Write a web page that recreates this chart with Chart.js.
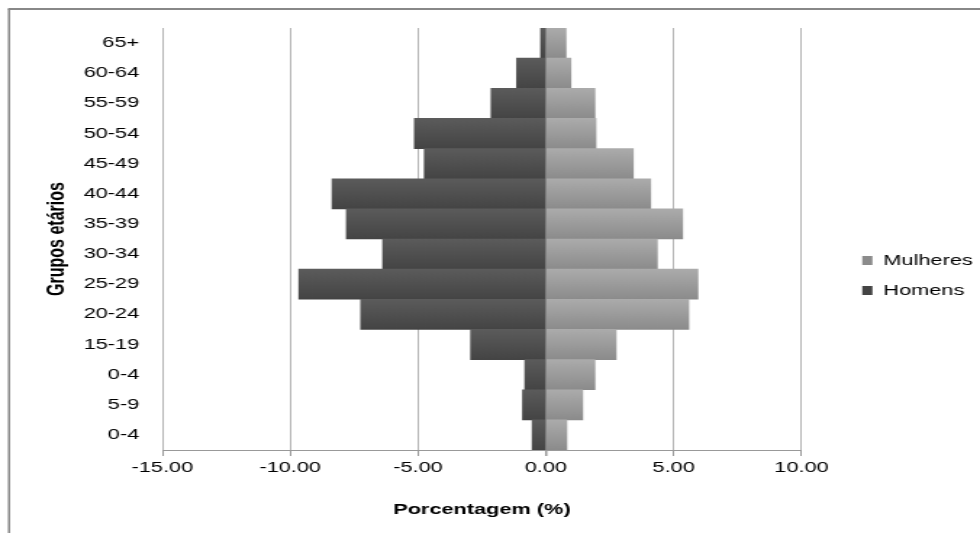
<!DOCTYPE html>
<html>
<head>
<meta charset="utf-8">
<script src="https://cdn.jsdelivr.net/npm/chart.js@4"></script>
<style>
  html, body { margin: 0; padding: 0; background: #fff; overflow: hidden; }
  /* the source picture is an Excel chart stretched sideways: draw narrow, show wide */
  #pyramidChart { display: block; width: 980px; height: 533px; }
</style>
</head>
<body>
<canvas id="pyramidChart" width="676" height="533" style="width:980px;height:533px"></canvas>
<script>
// Age groups, top to bottom (as in the source)
const ageGroups = ['65+', '60-64', '55-59', '50-54', '45-49', '40-44', '35-39',
                   '30-34', '25-29', '20-24', '15-19', '0-4', '5-9', '0-4'];

// Percent of population; men plotted to the left (negative)
const mulheres = [0.79, 0.98, 1.92, 1.96, 3.42, 4.10, 5.35, 4.36, 5.95, 5.59, 2.75, 1.92, 1.44, 0.82];
const homens = [-0.20, -1.14, -2.14, -5.14, -4.75, -8.36, -7.80, -6.38, -9.66, -7.24, -2.94, -0.82, -0.91, -0.53];

const xTicks = [-15, -10, -5, 0, 5, 10];

// vertical gradient per bar, like the shaded bars of the original
function barGradient(top, bottom) {
    return function(context) {
        const chart = context.chart;
        const y = chart.scales.y;
        if (!chart.chartArea || !y || context.dataIndex === undefined) return bottom;
        const c = y.getPixelForValue(context.dataIndex);
        const h = Math.abs(y.getPixelForValue(1) - y.getPixelForValue(0)) / 2;
        if (!isFinite(c) || !isFinite(h) || h === 0) return bottom;
        const g = chart.ctx.createLinearGradient(0, c - h, 0, c + h);
        g.addColorStop(0, top);
        g.addColorStop(1, bottom);
        return g;
    };
}

// frame (only top and left edges are visible in the crop) + move legend away from plot
const framePlugin = {
    id: 'frame',
    afterLayout(chart) {
        const l = chart.legend;
        if (l) { l.left += 27; l.right += 27; l.top += 2; l.bottom += 2; }
    },
    beforeDraw(chart) {
        const ctx = chart.ctx;
        ctx.save();
        ctx.fillStyle = '#fff';
        ctx.fillRect(0, 0, chart.width, chart.height);
        ctx.strokeStyle = '#888';
        ctx.lineWidth = 1.5;
        ctx.beginPath();
        ctx.moveTo(6.2, chart.height);
        ctx.lineTo(6.2, 9);
        ctx.stroke();
        ctx.lineWidth = 2;
        ctx.beginPath();
        ctx.moveTo(5.5, 9);
        ctx.lineTo(chart.width, 9);
        ctx.stroke();
        ctx.restore();
    }
};

new Chart(document.getElementById('pyramidChart').getContext('2d'), {
    type: 'bar',
    data: {
        labels: ageGroups,
        datasets: [{
            label: 'Mulheres',
            data: mulheres,
            backgroundColor: barGradient('#ababab', '#8b8b8b'),
            borderWidth: 0,
            barPercentage: 1,
            categoryPercentage: 1
        }, {
            label: 'Homens',
            data: homens,
            backgroundColor: barGradient('#5b5b5b', '#444444'),
            borderWidth: 0,
            barPercentage: 1,
            categoryPercentage: 1
        }]
    },
    options: {
        indexAxis: 'y',
        responsive: false,
        animation: false,
        devicePixelRatio: 1,
        layout: {
            padding: { left: 30, top: 28, right: 22, bottom: 14 }
        },
        scales: {
            x: {
                stacked: true,
                min: -15,
                max: 10,
                afterBuildTicks: function(axis) {
                    axis.ticks = xTicks.map(v => ({ value: v }));
                },
                ticks: {
                    color: '#000',
                    font: { family: 'Liberation Sans', size: 15 },
                    padding: 3,
                    callback: function(value) { return Number(value).toFixed(2); }
                },
                grid: {
                    color: function(ctx) { return ctx.tick && ctx.tick.value === 0 ? '#808080' : '#b5b5b5'; },
                    lineWidth: function(ctx) { return ctx.tick && ctx.tick.value === 0 ? 1.5 : 1; },
                    tickLength: 6,
                    tickColor: '#999'
                },
                border: { color: '#999', width: 1 },
                title: {
                    display: true,
                    text: 'Porcentagem (%)',
                    color: '#000',
                    font: { family: 'Liberation Sans', size: 15, weight: 'bold' },
                    padding: { top: 21, bottom: 0 }
                }
            },
            y: {
                stacked: true,
                afterFit: function(scale) { scale.width = 82; },
                grid: { display: false, drawTicks: false },
                border: { display: false },
                ticks: {
                    color: '#000',
                    font: { family: 'Liberation Sans', size: 15 },
                    padding: 16
                },
                title: {
                    display: true,
                    text: 'Grupos etários',
                    color: '#000',
                    font: { family: 'Liberation Sans', size: 16, weight: 'bold' },
                    padding: { top: 0, bottom: 4 }
                }
            }
        },
        plugins: {
            legend: {
                position: 'right',
                labels: {
                    color: '#000',
                    font: { family: 'Liberation Sans', size: 15 },
                    boxWidth: 7,
                    boxHeight: 9,
                    padding: 15
                }
            },
            tooltip: { enabled: false }
        }
    },
    plugins: [framePlugin]
});
</script>
</body>
</html>
